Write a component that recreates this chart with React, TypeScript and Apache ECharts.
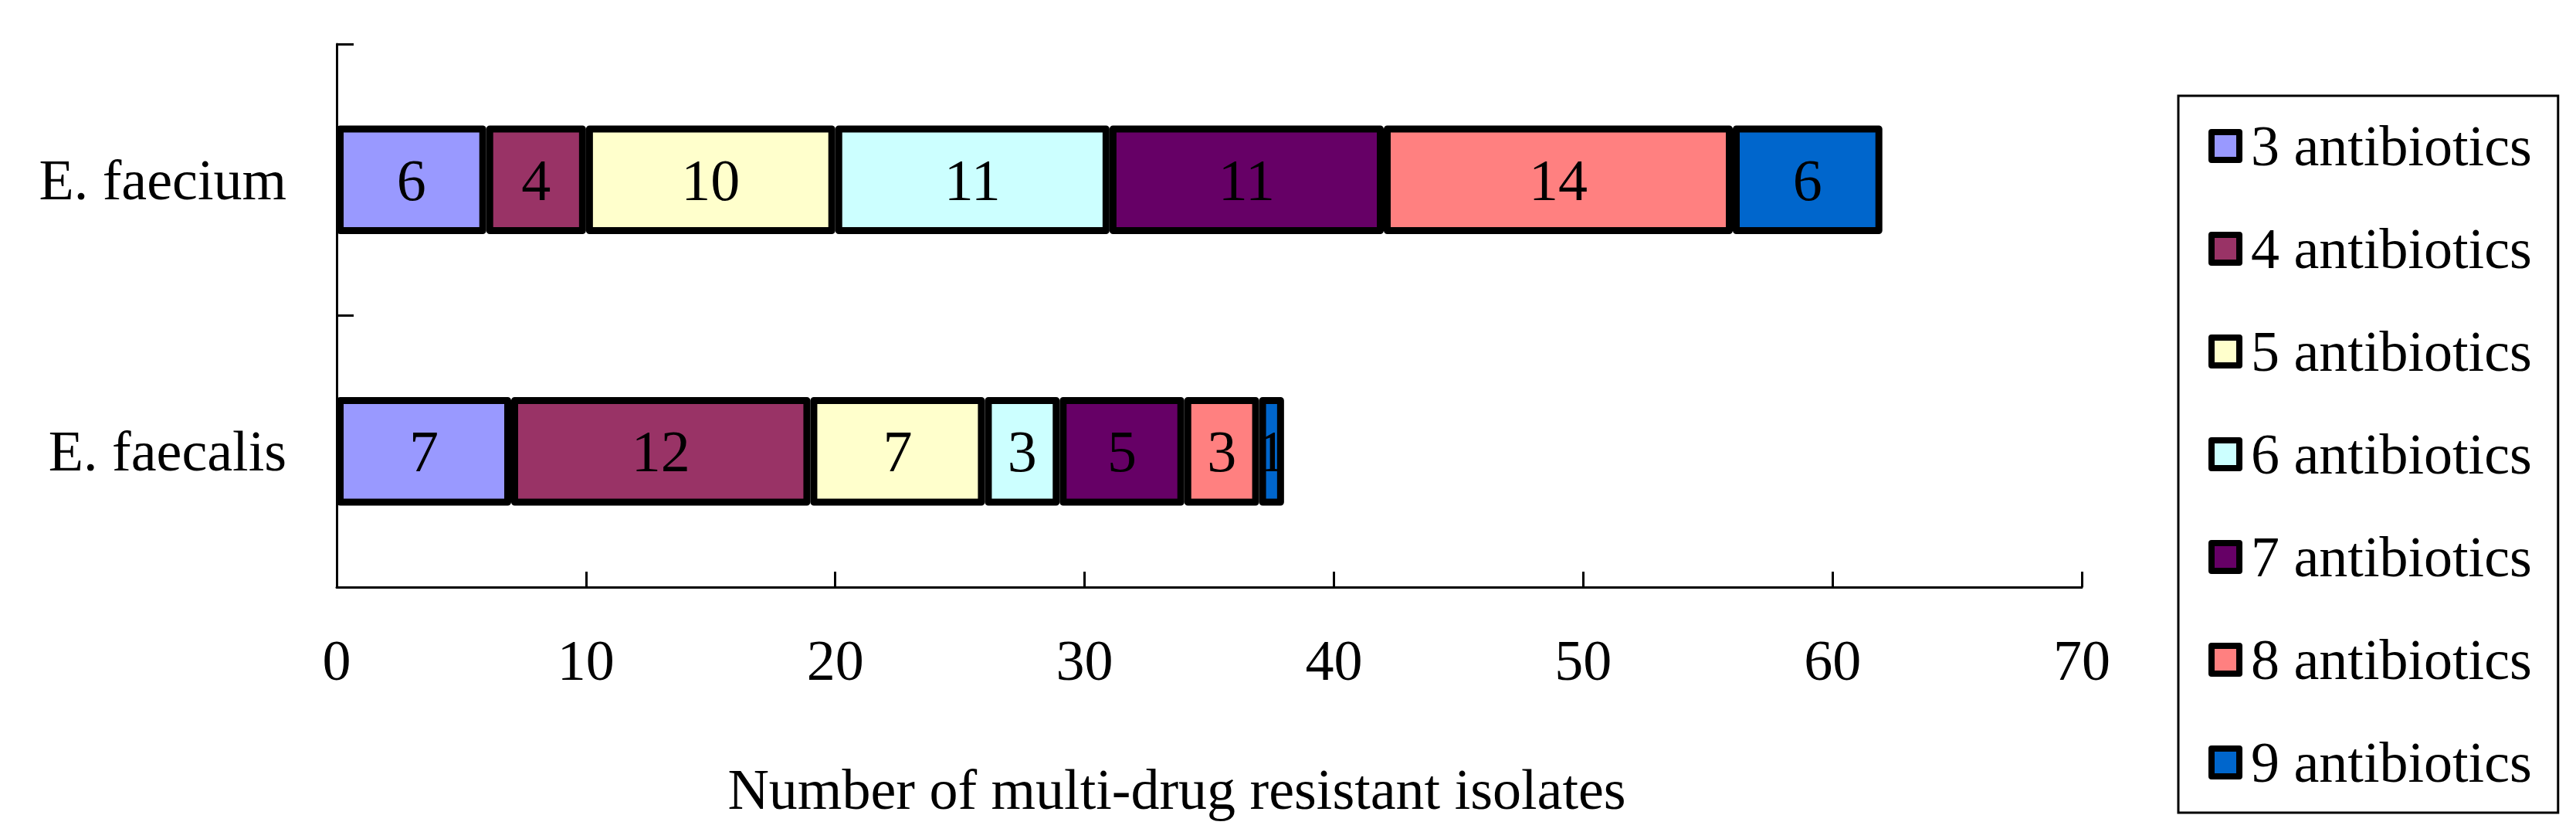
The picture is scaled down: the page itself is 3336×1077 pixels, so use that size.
import React, { useEffect, useRef } from "react";
import * as echarts from "echarts";

const categories = ["E. faecalis", "E. faecium"];
const seriesNames = [
  "3 antibiotics",
  "4 antibiotics",
  "5 antibiotics",
  "6 antibiotics",
  "7 antibiotics",
  "8 antibiotics",
  "9 antibiotics",
];
// values per series: [E. faecalis, E. faecium]
const s3 = [7, 6];
const s4 = [12, 4];
const s5 = [7, 10];
const s6 = [3, 11];
const s7 = [5, 11];
const s8 = [3, 14];
const s9 = [1, 6];
const seriesValues = [s3, s4, s5, s6, s7, s8, s9];
const colors = ["#9999FF", "#993366", "#FFFFCC", "#CCFFFF", "#660066", "#FF8080", "#0066CC"];
const xTicks = { min: 0, max: 70, interval: 10 };
const axisTitle = "Number of multi-drug resistant isolates";

const FONT = "Liberation Serif";

export default function App() {
  const ref = useRef<HTMLDivElement>(null);
  useEffect(() => {
    if (!ref.current) return;
    const chart = echarts.init(ref.current, null, { renderer: "svg" });
    chart.setOption({
      animation: false,
      backgroundColor: "#ffffff",
      textStyle: { fontFamily: FONT, color: "#000" },
      grid: { left: 436, right: 640, top: 57, bottom: 317, containLabel: false },
      legend: {
        orient: "vertical",
        left: 2821,
        top: 124,
        padding: [28, 34, 28, 39],
        borderColor: "#000",
        borderWidth: 3,
        itemWidth: 36,
        itemHeight: 36,
        itemGap: 59,
        icon: "rect",
        data: seriesNames,
        textStyle: { fontFamily: FONT, fontSize: 74, color: "#000", lineHeight: 74, padding: [0, 0, 0, 10] },
        itemStyle: { borderColor: "#000", borderWidth: 8 },
      },
      xAxis: {
        type: "value",
        min: xTicks.min,
        max: xTicks.max,
        interval: xTicks.interval,
        splitLine: { show: false },
        axisLine: { show: true, lineStyle: { color: "#000", width: 3 } },
        axisTick: { show: true, inside: true, length: 20, lineStyle: { color: "#000", width: 3 } },
        axisLabel: { fontFamily: FONT, fontSize: 74, color: "#000", margin: 58 },
        name: axisTitle,
        nameLocation: "middle",
        nameGap: 225,
        nameTextStyle: { fontFamily: FONT, fontSize: 74, color: "#000", padding: [0, 84, 0, 0] },
      },
      yAxis: {
        type: "category",
        data: categories,
        axisLine: { show: true, lineStyle: { color: "#000", width: 3 } },
        axisTick: { show: true, inside: true, length: 22, lineStyle: { color: "#000", width: 3 } },
        axisLabel: { fontFamily: FONT, fontSize: 74, color: "#000", margin: 65 },
      },
      series: seriesNames.map((name, i) => ({
        name,
        type: "bar",
        stack: "total",
        barWidth: "40%",
        data: seriesValues[i],
        itemStyle: { color: colors[i], borderColor: "#000", borderWidth: 9, borderJoin: "round" },
        label: {
          show: true,
          position: "inside",
          fontFamily: FONT,
          fontSize: 76,
          color: "#000",
        },
      })),
    });
    return () => chart.dispose();
  }, []);
  return (
    <div
      ref={ref}
      style={{ position: "fixed", left: 0, top: 0, width: 3336, height: 1077 }}
    />
  );
}
